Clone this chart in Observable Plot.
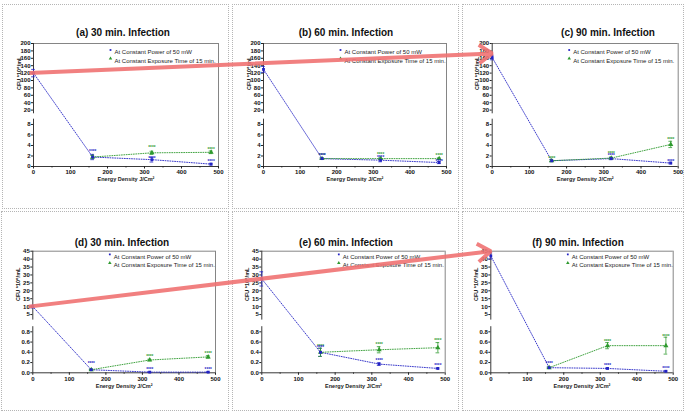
<!DOCTYPE html>
<html>
<head>
<meta charset="utf-8">
<script src="https://cdn.jsdelivr.net/npm/d3@7"></script>
<script src="https://cdn.jsdelivr.net/npm/@observablehq/plot@0.6"></script>
<style>
html,body{margin:0;padding:0;background:#fff;}
#fig{position:relative;width:685px;height:416px;overflow:hidden;background:#fff;font-family:"Liberation Sans",Arial,sans-serif;}
.panel{position:absolute;box-sizing:border-box;border:1px dotted #b5b5b5;}
.title{position:absolute;width:160px;text-align:center;font-weight:bold;font-size:10px;line-height:12px;color:#111;white-space:nowrap;}
.chart{position:absolute;}
.chart svg{display:block;overflow:visible;}
.overlay{position:absolute;left:0;top:0;pointer-events:none;}
</style>
</head>
<body>
<div id="fig"></div>
<script>
const FONT = "Liberation Sans, Arial, sans-serif";
const BLUE = "#2222c4";
const GREEN = "#2e9a2e";
const RED = "#f07272";

// ---------------- data ----------------
const energy = [0, 160, 320, 480];          // x values, constant power series
const exposureEnergy = [160, 320, 480];     // x values, constant exposure series
const titles = ["(a) 30 min. Infection", "(b) 60 min. Infection", "(c) 90 min. Infection",
                "(d) 30 min. Infection", "(e) 60 min. Infection", "(f) 90 min. Infection"];
const legendLabels = ["At Constant Power of 50 mW", "At Constant Exposure Time of 15 min."];
const xLabel = "Energy Density J/Cm²";
const yLabels = ["CFU *10⁸/mL", "CFU *10⁶/mL"];
const xTicks = [0, 100, 200, 300, 400, 500];
const xMinorTicks = [50, 150, 250, 350, 450];
const yTicksTop = [0, 2, 4, 6, 8, 20, 40, 60, 80, 100, 120, 140, 160, 180, 200];
const yTicksBottom = [0, 0.2, 0.4, 0.6, 0.8, 5, 10, 15, 20, 25, 30, 35, 40, 45];
const starText = "****";

// (a) 30 min, top row
const powerA = [120, 1.8, 1.3, 0.45];
const powerErrA = [10, 0.5, 0.45, 0.15];
const powerStarsA = [null, 2.95, 1.8, 1.15];
const exposureA = [1.8, 2.6, 2.7];
const exposureErrA = [0.3, 0.3, 0.25];
const exposureStarsA = [null, 3.75, 3.35];
// (b) 60 min, top row
const powerB = [130, 1.5, 1.2, 0.75];
const powerErrB = [8, 0.15, 0.3, 0.2];
const powerStarsB = [null, 2.3, 1.95, 1.1];
const exposureB = [1.5, 1.5, 1.5];
const exposureErrB = [0.1, 0.15, 0.15];
const exposureStarsB = [2.35, 2.55, 2.3];
// (c) 90 min, top row
const powerC = [162, 1.1, 1.5, 0.65];
const powerErrC = [6, 0.2, 0.2, 0.15];
const powerStarsC = [null, null, 2.2, 1.1];
const exposureC = [1.1, 1.6, 4.2];
const exposureErrC = [0.15, 0.2, 0.6];
const exposureStarsC = [1.8, 2.6, 5.4];
// (d) 30 min, bottom row
const powerD = [10, 0.06, 0.013, 0.013];
const powerErrD = [0.8, 0.01, 0.005, 0.005];
const powerStarsD = [null, 0.21, 0.08, 0.08];
const exposureD = [0.06, 0.25, 0.31];
const exposureErrD = [0.01, 0.015, 0.025];
const exposureStarsD = [null, 0.34, 0.4];
// (e) 60 min, bottom row
const powerE = [27.5, 0.4, 0.17, 0.085];
const powerErrE = [4.5, 0.08, 0.025, 0.01];
const powerStarsE = [null, 0.52, 0.25, 0.17];
const exposureE = [0.4, 0.45, 0.49];
const exposureErrE = [0.08, 0.06, 0.1];
const exposureStarsE = [0.53, 0.57, 0.645];
// (f) 90 min, bottom row
const powerF = [42, 0.1, 0.085, 0.03];
const powerErrF = [2, 0.015, 0.01, 0.01];
const powerStarsF = [null, 0.21, 0.16, 0.11];
const exposureF = [0.1, 0.53, 0.53];
const exposureErrF = [0.01, 0.06, 0.165];
const exposureStarsF = [null, 0.64, 0.72];

// red annotation arrows: from control value of one panel to another
const arrowLinks = [
  {from: 0, fromValue: 120, to: 2, toValue: 173},
  {from: 3, fromValue: 10, to: 5, toValue: 45}
];

// ---------------- layout ----------------
// broken y axis: piecewise map from data value to a linear "virtual" axis
const rows = [
  {breakDomain: [0, 9, 10, 200], breakRange: [0, 47.3, 52.7, 123], frame: [43, 166], ticks: yTicksTop,
   segments: [[0, 9], [10, 200]], fmt: d => String(Math.round(d)), ylabel: yLabels[0],
   ylabDy: -15, legDy: [6.5, 15], xlabDy: 14, titleY: 27},
  {breakDomain: [0, 0.9, 1.5, 45], breakRange: [0, 46.1, 52.7, 121.6], frame: [250.7, 372.3], ticks: yTicksBottom,
   segments: [[0, 0.9], [1.5, 45]], fmt: d => (d < 1 ? d.toFixed(1) : String(Math.round(d))), ylabel: yLabels[1],
   ylabDy: -11, legDy: [3.2, 11.8], xlabDy: 14.7, titleY: 236.5}
];
rows.forEach(R => { R.g = d3.scaleLinear().domain(R.breakDomain).range(R.breakRange); });

const panels = [
  {row: 0, box: [2, 4, 227, 205], plotX: [33, 218], titleX: 123,
   power: powerA, powerErr: powerErrA, powerStars: powerStarsA, exp: exposureA, expErr: exposureErrA, expStars: exposureStarsA},
  {row: 0, box: [232, 4, 227, 205], plotX: [263, 446], titleX: 346,
   power: powerB, powerErr: powerErrB, powerStars: powerStarsB, exp: exposureB, expErr: exposureErrB, expStars: exposureStarsB},
  {row: 0, box: [462, 4, 222, 205], plotX: [491.7, 677.7], titleX: 608,
   power: powerC, powerErr: powerErrC, powerStars: powerStarsC, exp: exposureC, expErr: exposureErrC, expStars: exposureStarsC},
  {row: 1, box: [1, 211, 228, 200], plotX: [32.3, 215], titleX: 122,
   power: powerD, powerErr: powerErrD, powerStars: powerStarsD, exp: exposureD, expErr: exposureErrD, expStars: exposureStarsD},
  {row: 1, box: [232, 211, 227, 200], plotX: [261.3, 444.7], titleX: 346,
   power: powerE, powerErr: powerErrE, powerStars: powerStarsE, exp: exposureE, expErr: exposureErrE, expStars: exposureStarsE},
  {row: 1, box: [462, 211, 222, 200], plotX: [490.3, 672.7], titleX: 578,
   power: powerF, powerErr: powerErrF, powerStars: powerStarsF, exp: exposureF, expErr: exposureErrF, expStars: exposureStarsF}
];

const fig = document.getElementById("fig");
const charts = [];

panels.forEach((p, i) => {
  const [L, T, W, H] = p.box;
  const R = rows[p.row];
  const g = R.g;
  const border = document.createElement("div");
  border.className = "panel";
  Object.assign(border.style, {left: L + "px", top: T + "px", width: W + "px", height: H + "px"});
  fig.appendChild(border);

  const title = document.createElement("div");
  title.className = "title";
  title.textContent = titles[i];
  Object.assign(title.style, {left: (p.titleX - 80) + "px", top: R.titleY + "px"});
  fig.appendChild(title);

  const mL = p.plotX[0] - L, mR = L + W - p.plotX[1];
  const mT = R.frame[0] - T, mB = T + H - R.frame[1];
  const top = R.breakDomain[3];

  const powerData = energy.map((x, k) => ({x, y: p.power[k], e: p.powerErr[k], s: p.powerStars[k]}));
  const expData = exposureEnergy.map((x, k) => ({x, y: p.exp[k], e: p.expErr[k], s: p.expStars[k]}));
  const caps = (data) => data.flatMap(d => [{x: d.x, y: d.y - d.e}, {x: d.x, y: d.y + d.e}]);

  const chart = Plot.plot({
    width: W, height: H,
    marginLeft: mL, marginRight: mR, marginTop: mT, marginBottom: mB,
    style: {fontFamily: FONT, fontSize: "6px", color: "#111", background: "transparent", overflow: "visible"},
    x: {domain: [0, 500]},
    y: {domain: [g(0), g(top)]},
    marks: [
      // frame top & right
      Plot.ruleY([top], {y: d => g(d), x1: 0, x2: 500, stroke: "#666", strokeWidth: 0.8}),
      Plot.ruleX([500], {y1: g(0), y2: g(top), stroke: "#666", strokeWidth: 0.8}),
      // axes lines (broken y axis)
      Plot.ruleY([0], {y: d => g(d), x1: 0, x2: 500, stroke: "#222", strokeWidth: 0.9}),
      Plot.ruleX(R.segments, {x: 0, y1: d => g(d[0]), y2: d => g(d[1]), stroke: "#222", strokeWidth: 0.9}),
      Plot.axisY({ticks: R.ticks.map(v => g(v)), tickFormat: t => R.fmt(g.invert(t)), tickSize: 2, tickPadding: 1,
                  label: null, fontSize: 6, fontWeight: "bold", stroke: "#222"}),
      Plot.axisX({ticks: xTicks, tickSize: 2.5, tickPadding: 1, label: null,
                  fontSize: 6, fontWeight: "bold", stroke: "#222"}),
      // minor x ticks
      Plot.ruleX(xMinorTicks, {y1: g(0), y2: g(0), insetBottom: -1.6, stroke: "#222", strokeWidth: 0.8}),
      // axis titles
      Plot.text([xLabel], {text: d => d, frameAnchor: "bottom", dy: R.xlabDy, fontSize: 5.5, fontWeight: "bold", fill: "#222"}),
      Plot.text([R.ylabel], {text: d => d, frameAnchor: "left", dx: -14.5, dy: R.ylabDy, rotate: -90,
                             fontSize: 5.5, fontWeight: "bold", fill: "#222"}),
      // series lines
      Plot.line(powerData, {x: "x", y: d => g(d.y), stroke: BLUE, strokeWidth: 0.9, strokeDasharray: "0.9,1.5"}),
      Plot.line(expData, {x: "x", y: d => g(d.y), stroke: GREEN, strokeWidth: 0.9, strokeDasharray: "0.9,1.5"}),
      // error bars
      Plot.ruleX(powerData, {x: "x", y1: d => g(d.y - d.e), y2: d => g(d.y + d.e), stroke: BLUE, strokeWidth: 0.8}),
      Plot.ruleY(caps(powerData), {y: d => g(d.y), x1: d => d.x - 5, x2: d => d.x + 5, stroke: BLUE, strokeWidth: 0.8}),
      Plot.ruleX(expData, {x: "x", y1: d => g(d.y - d.e), y2: d => g(d.y + d.e), stroke: GREEN, strokeWidth: 0.8}),
      Plot.ruleY(caps(expData), {y: d => g(d.y), x1: d => d.x - 5, x2: d => d.x + 5, stroke: GREEN, strokeWidth: 0.8}),
      // points
      Plot.dot(expData, {x: "x", y: d => g(d.y), symbol: "triangle", r: 1.9, fill: GREEN}),
      Plot.dot(powerData, {x: "x", y: d => g(d.y), symbol: "square", r: 1.6, fill: BLUE}),
      // significance stars
      Plot.text(expData.filter(d => d.s != null), {x: "x", y: d => g(d.s), text: () => starText, dy: 1,
                fill: GREEN, fontSize: 4.6, fontWeight: "bold"}),
      Plot.text(powerData.filter(d => d.s != null), {x: "x", y: d => g(d.s), text: () => starText, dy: 1,
                fill: BLUE, fontSize: 4.6, fontWeight: "bold"}),
      // legend
      Plot.dot([legendLabels[0]], {frameAnchor: "top-left", dx: 77, dy: R.legDy[0], symbol: "square", r: 1, fill: BLUE}),
      Plot.dot([legendLabels[1]], {frameAnchor: "top-left", dx: 77, dy: R.legDy[1], symbol: "triangle", r: 1.3, fill: GREEN}),
      Plot.text([legendLabels[0]], {text: d => d, frameAnchor: "top-left", dx: 81, dy: R.legDy[0],
                textAnchor: "start", fontSize: 6, fill: "#222"}),
      Plot.text([legendLabels[1]], {text: d => d, frameAnchor: "top-left", dx: 81, dy: R.legDy[1],
                textAnchor: "start", fontSize: 6, fill: "#222"})
    ]
  });
  const holder = document.createElement("div");
  holder.className = "chart";
  Object.assign(holder.style, {left: L + "px", top: T + "px"});
  holder.appendChild(chart);
  fig.appendChild(holder);
  charts.push(chart);
});

// ---------------- red annotation arrows (positions from panel scales) ----------------
const pagePoint = (i, xv, yv) => {
  const [L, T] = panels[i].box;
  const g = rows[panels[i].row].g;
  return [L + charts[i].scale("x").apply(xv), T + charts[i].scale("y").apply(g(yv))];
};
const arrowData = arrowLinks.map(a => {
  const [x1, y1] = pagePoint(a.from, 0, a.fromValue);
  const [x2, y2] = pagePoint(a.to, 0, a.toValue);
  return {x1: x1 - 4, y1, x2, y2};
});
const overlay = Plot.plot({
  width: 685, height: 416, margin: 0, axis: null,
  x: {type: "identity", axis: null}, y: {type: "identity", axis: null},
  style: {background: "transparent"},
  marks: [
    Plot.arrow(arrowData, {x1: "x1", y1: "y1", x2: "x2", y2: "y2", stroke: RED, strokeOpacity: 0.9,
                           strokeWidth: 4, headLength: 6, headAngle: 70, strokeLinecap: "butt"})
  ]
});
const ov = document.createElement("div");
ov.className = "overlay";
ov.appendChild(overlay);
fig.appendChild(ov);
</script>
</body>
</html>
